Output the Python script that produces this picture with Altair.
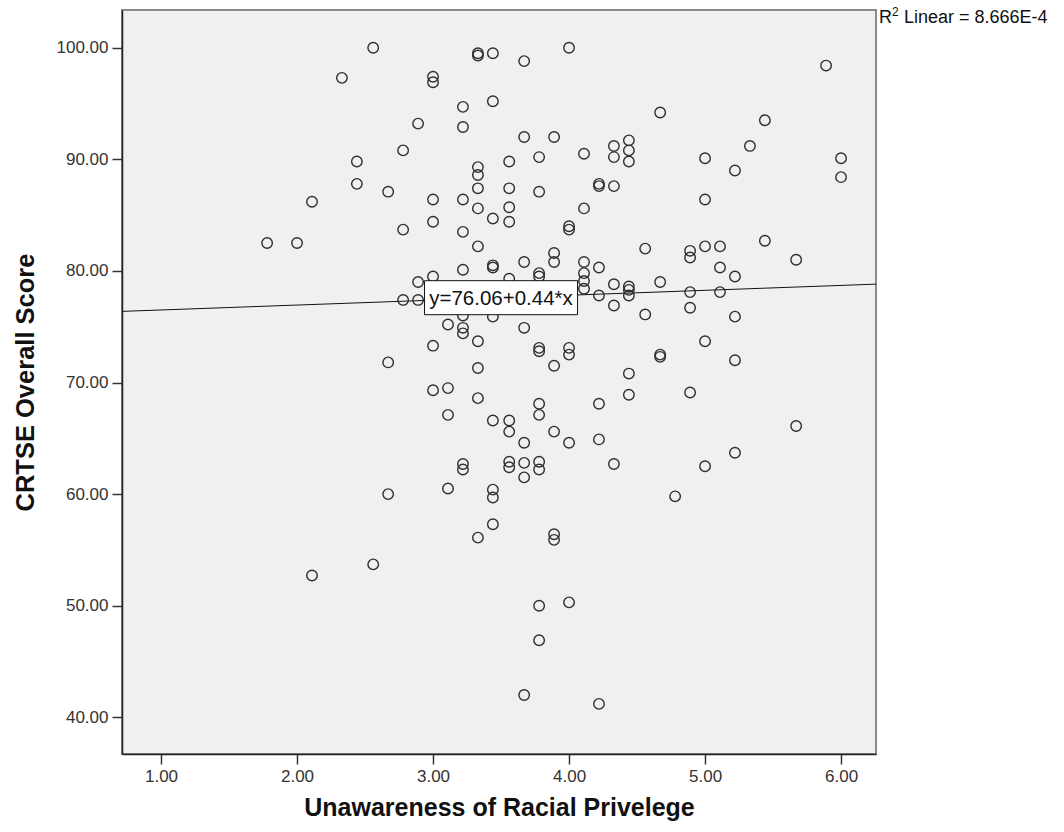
import altair as alt
import pandas as pd

# Scale means (9-item scale, so scores step by 1/9) and the CRTSE scores observed at each
unawareness_levels = [1.78, 2.00, 2.11, 2.33, 2.44, 2.56, 2.67, 2.78, 2.89, 3.00,
                      3.11, 3.22, 3.33, 3.44, 3.56, 3.67, 3.78, 3.89, 4.00, 4.11,
                      4.22, 4.33, 4.44, 4.56, 4.67, 4.78, 4.89, 5.00, 5.11, 5.22,
                      5.33, 5.44, 5.67, 5.89, 6.00]
crtse_scores = [
    [82.5],
    [82.5],
    [86.2, 52.7],
    [97.3],
    [89.8, 87.8],
    [100.0, 53.7],
    [87.1, 71.8, 60.0],
    [90.8, 83.7, 77.4],
    [93.2, 79.0, 77.4],
    [97.4, 96.9, 86.4, 84.4, 79.5, 73.3, 69.3],
    [75.2, 69.5, 67.1, 60.5],
    [94.7, 92.9, 86.4, 83.5, 80.1, 76.0, 74.9, 74.4, 62.7, 62.2],
    [99.5, 99.3, 89.3, 88.6, 87.4, 85.6, 82.2, 73.7, 71.3, 68.6, 56.1],
    [99.5, 95.2, 84.7, 80.5, 80.3, 75.9, 66.6, 60.4, 59.7, 57.3],
    [89.8, 87.4, 85.7, 84.4, 79.3, 66.6, 65.6, 62.9, 62.4],
    [98.8, 92.0, 80.8, 74.9, 64.6, 62.8, 61.5, 42.0],
    [90.2, 87.1, 79.8, 79.5, 73.1, 72.8, 68.1, 67.1, 62.9, 62.2, 50.0, 46.9],
    [92.0, 81.6, 80.8, 71.5, 65.6, 56.4, 55.9],
    [100.0, 84.0, 83.7, 73.1, 72.5, 64.6, 50.3],
    [90.5, 85.6, 80.8, 79.8, 79.1, 78.4],
    [87.8, 87.6, 80.3, 77.8, 68.1, 64.9, 41.2],
    [91.2, 90.2, 87.6, 78.8, 76.9, 62.7],
    [91.7, 90.8, 89.8, 78.6, 78.3, 77.8, 70.8, 68.9],
    [82.0, 76.1],
    [94.2, 79.0, 72.5, 72.3],
    [59.8],
    [81.8, 81.2, 78.1, 76.7, 69.1],
    [90.1, 86.4, 82.2, 73.7, 62.5],
    [82.2, 80.3, 78.1],
    [89.0, 79.5, 75.9, 72.0, 63.7],
    [91.2],
    [93.5, 82.7],
    [81.0, 66.1],
    [98.4],
    [90.1, 88.4],
]

# Linear fit reported on the chart
intercept = 76.06
slope = 0.44
r2_value = "8.666E-4"
label_at = 3.5

x_domain = [0.713, 6.257]
y_domain = [36.71, 103.38]
x_ticks = [1, 2, 3, 4, 5, 6]
y_ticks = [40, 50, 60, 70, 80, 90, 100]

rows = [
    {"x": lvl, "y": s}
    for lvl, scores in zip(unawareness_levels, crtse_scores)
    for s in scores
]
points_df = pd.DataFrame(rows)
fit_df = pd.DataFrame({"x": x_domain})
fit_df["y"] = intercept + slope * fit_df["x"]
label_df = pd.DataFrame({
    "x": [label_at],
    "y": [intercept + slope * label_at],
    "text": [f"y={intercept:.2f}+{slope:.2f}*x"],
})

FONT = "Liberation Sans"
INK = "#111111"

x_scale = alt.Scale(domain=x_domain, nice=False, zero=False)
y_scale = alt.Scale(domain=y_domain, nice=False, zero=False)

x_enc = alt.X(
    "x:Q", scale=x_scale,
    axis=alt.Axis(
        title="Unawareness of Racial Privelege", values=x_ticks, format=".2f",
        grid=False, domainColor="#222222", domainWidth=1.5,
        tickColor="#333333", tickSize=10, tickWidth=1.5,
        labelFont=FONT, labelFontSize=17, labelColor="#333333", labelPadding=4,
        titleFont=FONT, titleFontSize=25, titleFontWeight="bold", titleColor=INK,
        titleX=377, titleY=61, titleBaseline="alphabetic", titleAlign="center",
    ),
)
y_enc = alt.Y(
    "y:Q", scale=y_scale,
    axis=alt.Axis(
        title="CRTSE Overall Score", values=y_ticks, format=".2f",
        grid=False, domainColor="#222222", domainWidth=1.5,
        tickColor="#333333", tickSize=10, tickWidth=1.5,
        labelFont=FONT, labelFontSize=17, labelColor="#333333", labelPadding=4,
        titleFont=FONT, titleFontSize=25.5, titleFontWeight="bold", titleColor=INK,
        titleAngle=270, titleX=-89, titleY=372, titleBaseline="alphabetic",
        titleAlign="center",
    ),
)

fit_line = alt.Chart(fit_df).mark_line(color=INK, strokeWidth=1, clip=True).encode(
    x=x_enc, y=y_enc
)

points = alt.Chart(points_df).mark_point(
    shape="circle", size=110, filled=False, color="#2e2e2e", strokeWidth=1.4, opacity=1
).encode(x="x:Q", y="y:Q")

label_box = alt.Chart(label_df).mark_point(
    shape="M-1,-0.2222L1,-0.2222L1,0.2222L-1,0.2222Z",
    size=153 * 153, filled=True, fill="white", stroke=INK, strokeWidth=1, opacity=1,
).encode(x="x:Q", y="y:Q")

label_text = alt.Chart(label_df).mark_text(
    font=FONT, fontSize=20.5, color=INK, align="center", baseline="middle", dy=1
).encode(x="x:Q", y="y:Q", text="text:N")

# "R² Linear = ..." note just outside the top-right corner of the plot
r2_df = pd.DataFrame({"text": ["R"]})
r2_r = alt.Chart(r2_df).mark_text(
    font=FONT, fontSize=18, color=INK, align="left", baseline="alphabetic"
).encode(x=alt.value(757), y=alt.value(13), text="text:N")
r2_sup = alt.Chart(pd.DataFrame({"text": ["2"]})).mark_text(
    font=FONT, fontSize=12, color=INK, align="left", baseline="alphabetic"
).encode(x=alt.value(770), y=alt.value(6), text="text:N")
r2_rest = alt.Chart(pd.DataFrame({"text": [f"Linear = {r2_value}"]})).mark_text(
    font=FONT, fontSize=18, color=INK, align="left", baseline="alphabetic"
).encode(x=alt.value(782), y=alt.value(13), text="text:N")

chart = (
    alt.layer(fit_line, points, label_box, label_text, r2_r, r2_sup, r2_rest)
    .properties(
        width=754, height=744,
        autosize=alt.AutoSizeParams(type="none"),
        padding={"left": 122, "top": 10, "right": 188, "bottom": 78},
        background="white",
    )
    .configure_view(fill="#f0f0f0", stroke="#8a8a8a", strokeWidth=2)
)

chart.save("out.html", embed_options={"renderer": "svg", "actions": False})
